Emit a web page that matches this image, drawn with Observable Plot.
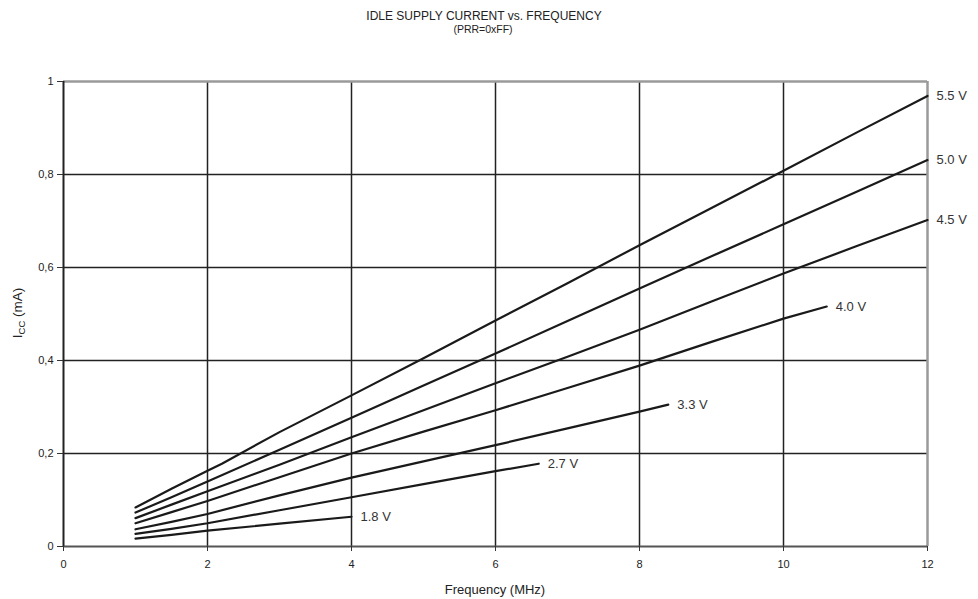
<!DOCTYPE html>
<html>
<head>
<meta charset="utf-8">
<script src="https://cdn.jsdelivr.net/npm/d3@7"></script>
<script src="https://cdn.jsdelivr.net/npm/@observablehq/plot@0.6"></script>
<style>
  html, body { margin: 0; padding: 0; background: #fff; }
  body { font-family: "Liberation Sans", Arial, sans-serif; }
  #wrap { position: relative; width: 978px; height: 599px; }
  #title { position: absolute; left: 0; width: 968px; top: 9px; text-align: center; font-size: 12px; color: #222; }
  #subtitle { position: absolute; left: 0; width: 966px; top: 23px; text-align: center; font-size: 10.5px; color: #222; }
  #chart { position: absolute; left: 0; top: 40px; }
</style>
</head>
<body>
<div id="wrap">
  <div id="title">IDLE SUPPLY CURRENT vs. FREQUENCY</div>
  <div id="subtitle">(PRR=0xFF)</div>
  <div id="chart"></div>
</div>
<script>
// Frequency (MHz) and Icc (mA)
const freq_55 = [1, 1.5, 2, 2.2, 3, 4, 5, 6, 7, 8, 9, 10, 11, 12];
const icc_55  = [0.084, 0.124, 0.163, 0.178, 0.246, 0.325, 0.405, 0.486, 0.566, 0.648, 0.728, 0.808, 0.889, 0.969];
const freq_50 = [1, 1.5, 2, 3, 4, 5, 6, 7, 8, 9, 10, 11, 12];
const icc_50  = [0.073, 0.106, 0.140, 0.208, 0.277, 0.346, 0.415, 0.485, 0.555, 0.624, 0.693, 0.762, 0.831];
const freq_45 = [1, 1.5, 2, 3, 4, 5, 6, 7, 8, 9, 10, 11, 12];
const icc_45  = [0.061, 0.090, 0.119, 0.176, 0.235, 0.293, 0.351, 0.408, 0.466, 0.527, 0.587, 0.645, 0.702];
const freq_40 = [1, 1.5, 2, 3, 4, 5, 6, 7, 8, 9, 10, 10.6];
const icc_40  = [0.050, 0.074, 0.098, 0.149, 0.200, 0.247, 0.293, 0.341, 0.389, 0.440, 0.490, 0.516];
const freq_33 = [1, 1.5, 2, 3, 4, 5, 6, 7, 8, 8.4];
const icc_33  = [0.037, 0.053, 0.070, 0.110, 0.148, 0.183, 0.218, 0.254, 0.290, 0.305];
const freq_27 = [1, 1.5, 2, 3, 4, 5, 6, 6.6];
const icc_27  = [0.027, 0.038, 0.050, 0.078, 0.106, 0.134, 0.162, 0.178];
const freq_18 = [1, 1.5, 2, 3, 4];
const icc_18  = [0.017, 0.025, 0.034, 0.049, 0.064];

const seriesNames = ["5.5 V", "5.0 V", "4.5 V", "4.0 V", "3.3 V", "2.7 V", "1.8 V"];
const seriesFreq = [freq_55, freq_50, freq_45, freq_40, freq_33, freq_27, freq_18];
const seriesIcc  = [icc_55, icc_50, icc_45, icc_40, icc_33, icc_27, icc_18];

const xTicks = [0, 2, 4, 6, 8, 10, 12];
const yTicks = [0, 0.2, 0.4, 0.6, 0.8, 1];
const xGrid = [2, 4, 6, 8, 10];
const yGrid = [0.2, 0.4, 0.6, 0.8];

const rows = [];
seriesNames.forEach((name, i) => {
  seriesFreq[i].forEach((f, j) => rows.push({series: name, f, icc: seriesIcc[i][j]}));
});
const ends = seriesNames.map((name, i) => ({
  series: name,
  f: seriesFreq[i][seriesFreq[i].length - 1],
  icc: seriesIcc[i][seriesIcc[i].length - 1]
}));

const chart = Plot.plot({
  width: 978,
  height: 559,
  marginTop: 41,
  marginBottom: 53,
  marginLeft: 63,
  marginRight: 51,
  style: {fontFamily: "'Liberation Sans', Arial, sans-serif", fontSize: "11px", color: "#222", background: "#fff"},
  x: {domain: [0, 12], ticks: xTicks, label: null},
  y: {domain: [0, 1], ticks: yTicks, label: null},
  marks: [
    Plot.gridX(xGrid, {stroke: "#222", strokeOpacity: 1, strokeWidth: 1.5}),
    Plot.gridY(yGrid, {stroke: "#222", strokeOpacity: 1, strokeWidth: 1.5}),
    Plot.ruleY([1], {stroke: "#9a9a9a", strokeWidth: 2.5}),
    Plot.ruleX([12], {stroke: "#9a9a9a", strokeWidth: 2.5}),
    Plot.ruleY([0], {stroke: "#555", strokeWidth: 2}),
    Plot.ruleX([0], {stroke: "#222", strokeWidth: 2}),
    Plot.axisX(xTicks, {tickSize: 5, tickPadding: 9, fontSize: 11, stroke: "#333"}),
    Plot.axisY(yTicks, {tickSize: 6, tickPadding: 4, fontSize: 11, stroke: "#333",
      tickFormat: d => String(d).replace(".", ",")}),
    Plot.line(rows, {x: "f", y: "icc", z: "series", stroke: "#1a1a1a", strokeWidth: 2.2}),
    Plot.text(ends, {x: "f", y: "icc", text: "series", dx: 9, textAnchor: "start", fontSize: 13, fill: "#333"})
  ]
});
document.getElementById("chart").appendChild(chart);

const svg = d3.select(chart);
// x-axis label
svg.append("text")
  .attr("x", 495).attr("y", 554)
  .attr("text-anchor", "middle")
  .attr("font-size", 13).attr("fill", "#222")
  .text("Frequency (MHz)");
// y-axis label with subscript
const yl = svg.append("text")
  .attr("transform", "translate(22,273) rotate(-90)")
  .attr("text-anchor", "middle")
  .attr("font-size", 13.5).attr("fill", "#222");
yl.append("tspan").text("I");
yl.append("tspan").attr("font-size", 9.5).attr("dy", 3).text("CC");
yl.append("tspan").attr("dy", -3).text(" (mA)");
</script>
</body>
</html>
